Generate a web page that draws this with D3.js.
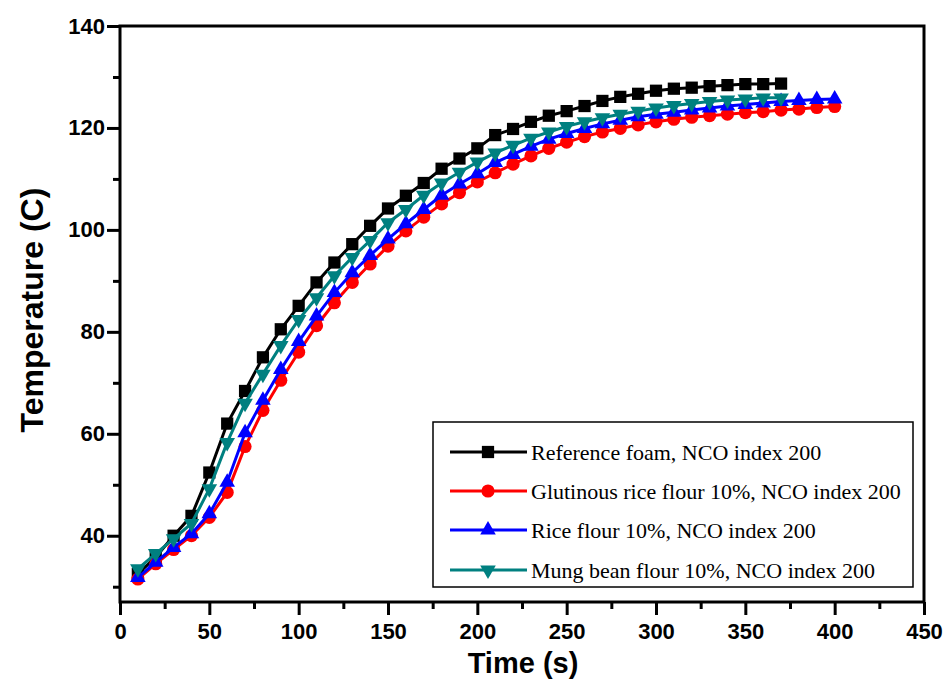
<!DOCTYPE html>
<html><head><meta charset="utf-8">
<script src="https://cdn.jsdelivr.net/npm/d3@7"></script>
<style>body{margin:0;background:#fff}svg{display:block}</style>
</head><body>
<svg id="chart" width="948" height="698"></svg>
<script>
const times10to370 = d3.range(10, 371, 10);
const times10to400 = d3.range(10, 401, 10);
const referenceFoam = [32.5,35.8,40,43.9,52.4,62,68.4,75,80.5,85.1,89.7,93.6,97.2,100.8,104.2,106.7,109.2,112,114,116,118.6,119.8,121.2,122.4,123.3,124.3,125.3,126.1,126.7,127.3,127.7,127.9,128.2,128.4,128.6,128.6,128.7];
const glutinousRice = [31.5,34.5,37.3,40,43.6,48.5,57.5,64.6,70.5,76,81.2,85.7,89.7,93.3,96.8,99.8,102.5,105.1,107.3,109.4,111.2,112.9,114.5,116,117.2,118.3,119.2,119.9,120.6,121.2,121.7,122.1,122.4,122.7,123,123.2,123.5,123.7,124,124.2];
const riceFlour = [31.8,34.8,37.7,40.4,44.3,50.5,60.2,66.6,72.6,78.1,83.1,87.7,91.6,95,98.2,101.2,104,106.8,109,111,113.2,114.8,116.4,117.8,118.9,119.9,120.8,121.5,122.2,122.7,123.1,123.5,123.9,124.3,124.6,124.9,125.2,125.4,125.6,125.7];
const mungBean = [33.5,36.5,39.4,42.4,49.2,58.3,66,71.7,77.3,82.4,86.7,91,94.6,97.9,101.4,104,106.8,109.2,111.3,113.3,115.1,116.6,118,119.2,120.3,121.2,122,122.7,123.3,123.9,124.4,124.8,125.2,125.5,125.7,125.9,125.9];
const seriesNames = ["Reference foam, NCO index 200","Glutinous rice flour 10%, NCO index 200","Rice flour 10%, NCO index 200","Mung bean flour 10%, NCO index 200"];
const xTicks = [0,50,100,150,200,250,300,350,400,450];
const yTicks = [40,60,80,100,120,140];
const xTitle = "Time (s)";
const yTitle = "Temperature (C)";

const series = [
  {name: seriesNames[0], t: times10to370, v: referenceFoam, color: "#000000", sym: d3.symbolSquare, size: 150, rot: 0},
  {name: seriesNames[1], t: times10to400, v: glutinousRice, color: "#ff0000", sym: d3.symbolCircle, size: 135, rot: 0},
  {name: seriesNames[2], t: times10to400, v: riceFlour, color: "#0000ff", sym: d3.symbolTriangle, size: 105, rot: 0},
  {name: seriesNames[3], t: times10to370, v: mungBean, color: "#008080", sym: d3.symbolTriangle, size: 105, rot: 180}
];

const svg = d3.select("#chart");
const L = 120, R = 924, T = 26, B = 602;
const x = d3.scaleLinear().domain([0,450]).range([L,R]);
const y = d3.scaleLinear().domain([27,140]).range([B,T]);

const xMinor = d3.range(25, 450, 50);
const yMinor = d3.range(30, 140, 20);

const font = "'Liberation Sans', Arial, sans-serif";

const xAxis = svg.append("g").attr("transform", `translate(0,${B})`)
  .call(d3.axisBottom(x).tickValues(xTicks).tickSize(13).tickSizeOuter(0).tickPadding(5));
const xAxisMinor = svg.append("g").attr("transform", `translate(0,${B})`)
  .call(d3.axisBottom(x).tickValues(xMinor).tickSize(7).tickSizeOuter(0).tickFormat(""));
const yAxis = svg.append("g").attr("transform", `translate(${L},0)`)
  .call(d3.axisLeft(y).tickValues(yTicks).tickSize(13).tickSizeOuter(0).tickPadding(2));
const yAxisMinor = svg.append("g").attr("transform", `translate(${L},0)`)
  .call(d3.axisLeft(y).tickValues(yMinor).tickSize(7).tickSizeOuter(0).tickFormat(""));
[xAxis, xAxisMinor, yAxis, yAxisMinor].forEach(g => {
  g.select(".domain").remove();
  g.selectAll(".tick line").attr("stroke", "#000").attr("stroke-width", 3);
  g.selectAll("text").attr("fill", "#000").style("font-family", font).style("font-weight", "bold").style("font-size", "22px");
});
xAxis.selectAll("text").attr("dy", "0.85em");

svg.append("rect").attr("x", L).attr("y", T).attr("width", R - L).attr("height", B - T)
  .attr("fill", "none").attr("stroke", "#000").attr("stroke-width", 3);

const line = d3.line().x(d => x(d[0])).y(d => y(d[1]));
series.forEach(s => {
  const pts = s.t.map((t, i) => [t, s.v[i]]);
  const g = svg.append("g");
  g.append("path").datum(pts).attr("d", line).attr("fill", "none").attr("stroke", s.color).attr("stroke-width", 3);
  g.selectAll("path.m").data(pts).enter().append("path").attr("class", "m")
    .attr("d", d3.symbol().type(s.sym).size(s.size))
    .attr("transform", d => `translate(${x(d[0])},${y(d[1])}) rotate(${s.rot})`)
    .attr("fill", s.color);
});

const lg = svg.append("g");
lg.append("rect").attr("x", 433).attr("y", 422).attr("width", 480).attr("height", 165)
  .attr("fill", "#fff").attr("stroke", "#000").attr("stroke-width", 1.5);
const rowY = [452, 491, 530, 570];
series.forEach((s, i) => {
  const yy = rowY[i];
  lg.append("line").attr("x1", 450).attr("x2", 527).attr("y1", yy).attr("y2", yy).attr("stroke", s.color).attr("stroke-width", 3);
  lg.append("path").attr("d", d3.symbol().type(s.sym).size(s.size)).attr("transform", `translate(488,${yy}) rotate(${s.rot})`).attr("fill", s.color);
  lg.append("text").attr("x", 531).attr("y", yy).attr("dy", "0.35em")
    .style("font-family", "'Liberation Serif', 'Times New Roman', serif").style("font-size", "22px").attr("fill", "#000")
    .text(s.name);
});

svg.append("text").attr("x", 523).attr("y", 673).attr("text-anchor", "middle")
  .style("font-family", font).style("font-weight", "bold").style("font-size", "29px").text(xTitle);
svg.append("text").attr("transform", "translate(43,310) rotate(-90)").attr("text-anchor", "middle")
  .style("font-family", font).style("font-weight", "bold").style("font-size", "32px").text(yTitle);
</script>
</body></html>
